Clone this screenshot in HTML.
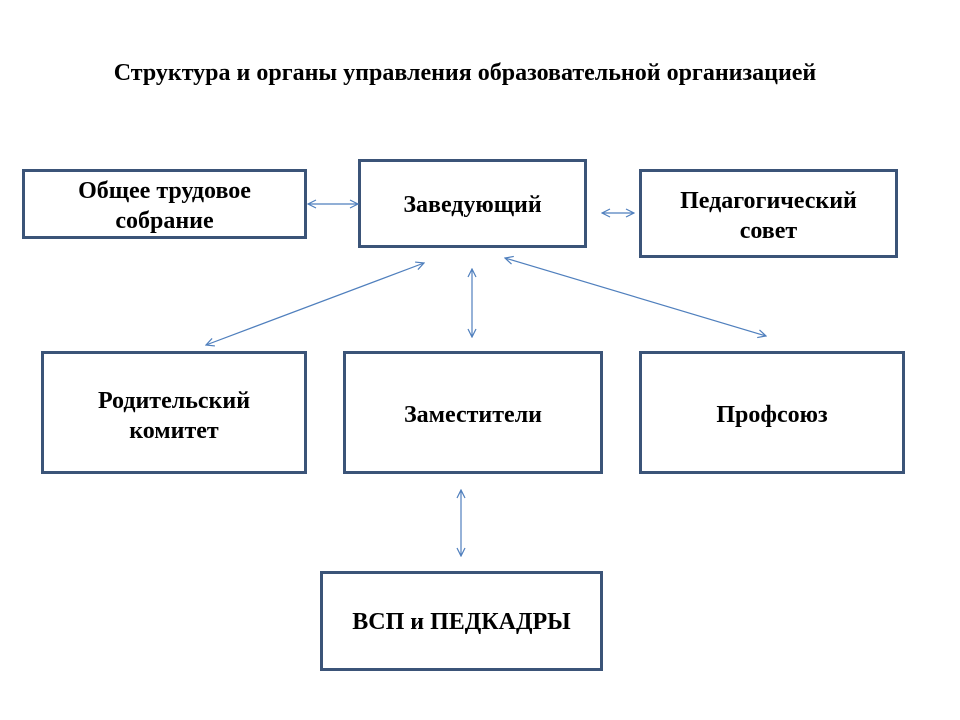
<!DOCTYPE html>
<html><head><meta charset="utf-8"><style>
body{margin:0;width:960px;height:720px;background:#fff;position:relative;overflow:hidden;font-family:"Liberation Serif",serif;}
.t{position:absolute;left:0;width:960px;top:58px;text-align:center;font-weight:bold;font-size:24px;line-height:30px}
.b{position:absolute;box-sizing:border-box;border:3px solid #3b5478;display:flex;align-items:center;justify-content:center;text-align:center;font-weight:bold;font-size:24px;line-height:30px;color:#000;white-space:nowrap}
</style></head><body>
<div class="t" style="left:-15px">Структура и органы управления образовательной организацией</div>
<div class="b" style="left:22px;top:169px;width:285px;height:70px;padding-top:4px">Общее трудовое<br>собрание</div>
<div class="b" style="left:358px;top:159px;width:229px;height:89px;padding-top:3px">Заведующий</div>
<div class="b" style="left:639px;top:169px;width:259px;height:89px;padding-top:4px">Педагогический<br>совет</div>
<div class="b" style="left:41px;top:351px;width:266px;height:123px;padding-top:6px">Родительский<br>комитет</div>
<div class="b" style="left:343px;top:351px;width:260px;height:123px;padding-top:4px">Заместители</div>
<div class="b" style="left:639px;top:351px;width:266px;height:123px;padding-top:4px">Профсоюз</div>
<div class="b" style="left:320px;top:571px;width:283px;height:100px;padding-top:2px">ВСП и ПЕДКАДРЫ</div>
<svg width="960" height="720" style="position:absolute;left:0;top:0">
<defs><marker id="a" viewBox="0 0 10 10" refX="9" refY="5" markerWidth="10" markerHeight="10" orient="auto-start-reverse" markerUnits="userSpaceOnUse"><path d="M1,1 L9,5 L1,9" fill="none" stroke="#4f7fbd" stroke-width="1.2"/></marker></defs>
<g stroke="#4f7fbd" stroke-width="1.2" fill="none" marker-start="url(#a)" marker-end="url(#a)">
<line x1="308" y1="204" x2="358" y2="204"/>
<line x1="602" y1="213" x2="634" y2="213"/>
<line x1="206" y1="345" x2="424" y2="263"/>
<line x1="472" y1="269" x2="472" y2="337"/>
<line x1="505" y1="258" x2="766" y2="336"/>
<line x1="461" y1="490" x2="461" y2="556"/>
</g></svg>
</body></html>
